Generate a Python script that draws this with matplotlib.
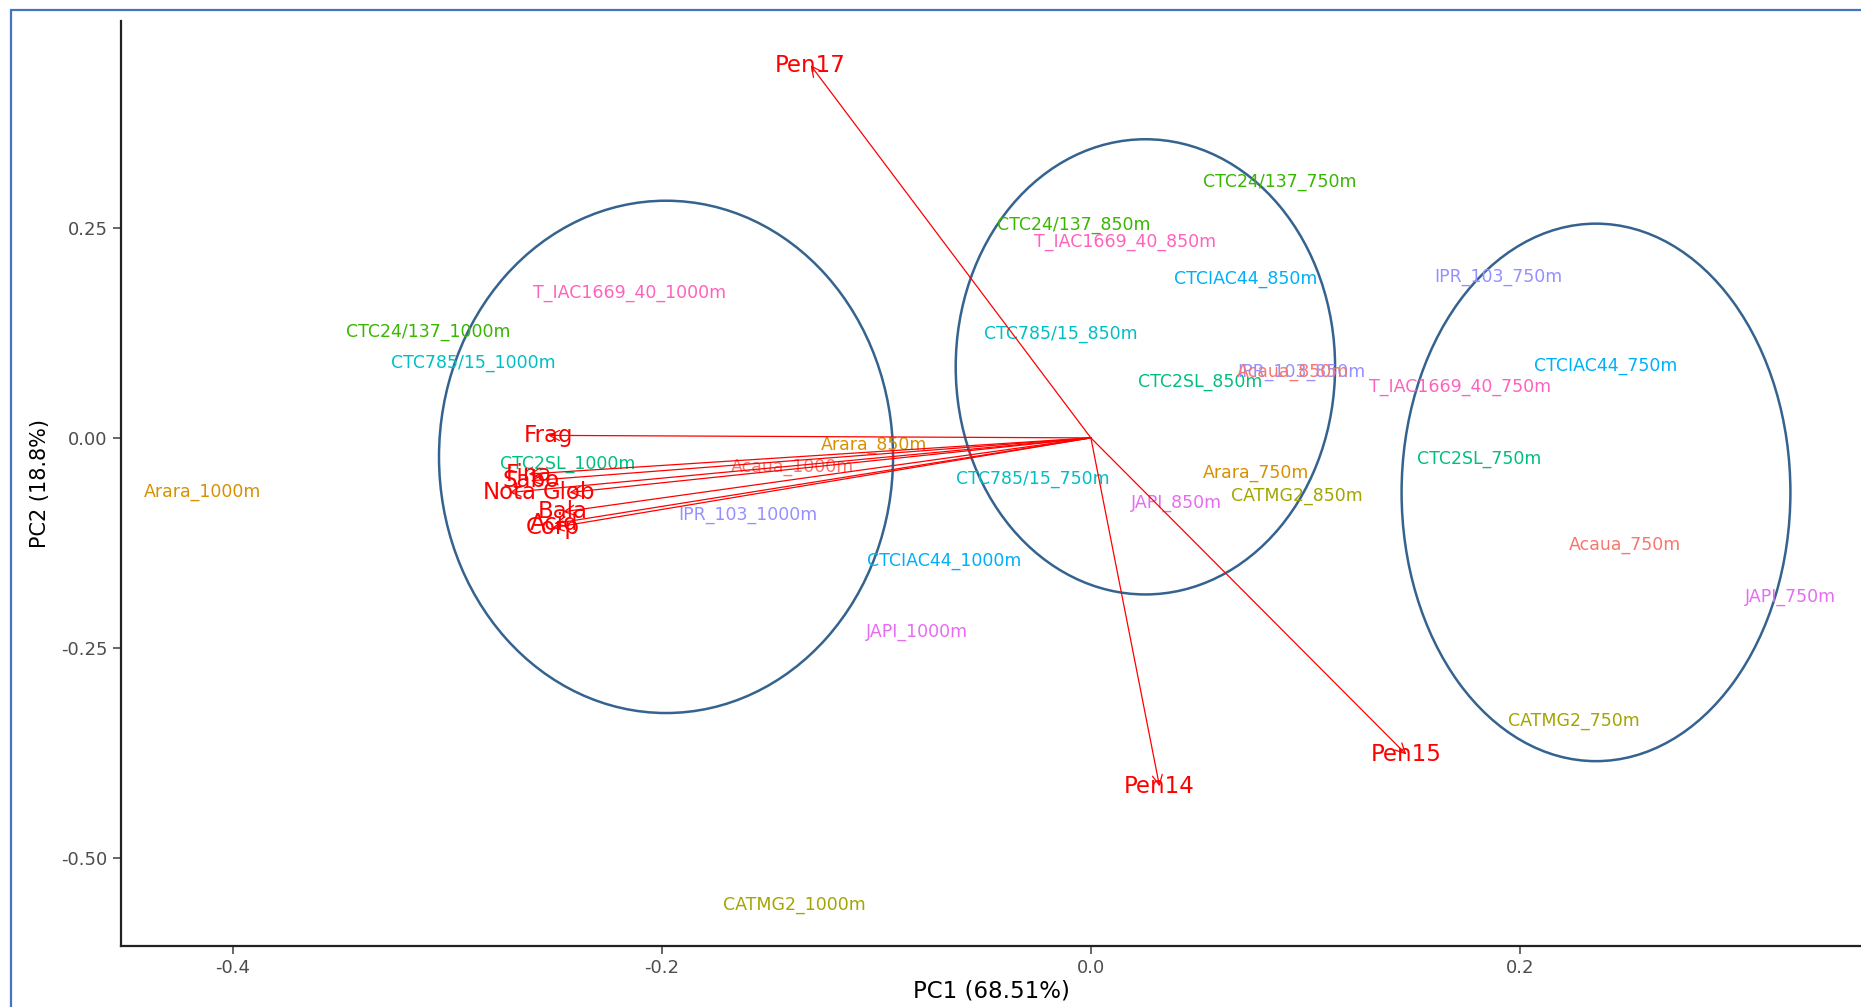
import matplotlib
matplotlib.use('Agg')
import matplotlib.pyplot as plt
from matplotlib.patches import Ellipse, Rectangle

plt.rcParams['font.family'] = ['DejaVu Sans']
plt.rcParams['axes.unicode_minus'] = False

# amostras (genótipo_altitude) e coordenadas PC1/PC2
sample_names = [
    'Arara_1000m', 'CTC24/137_1000m', 'CTC785/15_1000m', 'T_IAC1669_40_1000m',
    'CTC2SL_1000m', 'Acaua_1000m', 'IPR_103_1000m', 'CTCIAC44_1000m',
    'JAPI_1000m', 'CATMG2_1000m',
    'Arara_850m', 'CTC24/137_850m', 'T_IAC1669_40_850m', 'CTCIAC44_850m',
    'CTC785/15_850m', 'CTC2SL_850m', 'IPR_103_850m', 'Acaua_850m',
    'CATMG2_850m', 'JAPI_850m',
    'CTC24/137_750m', 'T_IAC1669_40_750m', 'IPR_103_750m', 'CTCIAC44_750m',
    'CTC2SL_750m', 'Acaua_750m', 'JAPI_750m', 'CATMG2_750m',
    'CTC785/15_750m', 'Arara_750m',
]
pc1 = [-0.414, -0.309, -0.288, -0.215, -0.244, -0.139, -0.160, -0.0685, -0.081, -0.138,
       -0.101, -0.008, 0.016, 0.072, -0.014, 0.051, 0.098, 0.094, 0.096, 0.040,
       0.088, 0.172, 0.190, 0.240, 0.181, 0.249, 0.326, 0.225, -0.027, 0.077]
pc2 = [-0.065, 0.126, 0.089, 0.173, -0.031, -0.035, -0.092, -0.147, -0.231, -0.556,
       -0.008, 0.254, 0.233, 0.189, 0.124, 0.066, 0.079, 0.079, -0.069, -0.078,
       0.305, 0.061, 0.192, 0.086, -0.025, -0.127, -0.189, -0.337, -0.049, -0.042]

genotypes = ['Acaua', 'Arara', 'CATMG2', 'CTC24/137', 'CTC2SL', 'CTC785/15',
             'CTCIAC44', 'IPR_103', 'JAPI', 'T_IAC1669_40']
genotype_colors = ['#F8766D', '#D89000', '#A3A500', '#39B600', '#00BF7D', '#00BFC4',
                   '#00B0F6', '#9590FF', '#E76BF3', '#FF62BC']

# variáveis (setas)
var_names = ['Pen17', 'Pen15', 'Pen14', 'Frag', 'Fina', 'Sabo', 'Nota', 'Glob',
             'Bala', 'Acid', 'Corp']
var_pc1 = [-0.1306, 0.147, 0.032, -0.253, -0.262, -0.261, -0.271, -0.243, -0.246, -0.250, -0.251]
var_pc2 = [0.4437, -0.377, -0.415, 0.003, -0.043, -0.051, -0.065, -0.065, -0.088, -0.102, -0.107]

# elipses por altitude: centro, semi-eixos
ell_cx = [-0.198, 0.0254, 0.2354]
ell_cy = [-0.0226, 0.0846, -0.0649]
ell_sx = [0.1058, 0.0884, 0.0906]
ell_sy = [0.305, 0.271, 0.320]

fig = plt.figure(figsize=(18.61, 10.07), dpi=100)
ax = fig.add_axes([121 / 1861, 61 / 1007, 1 - 121 / 1861, 925 / 1007])

color_of = dict(zip(genotypes, genotype_colors))
for name, x, y in zip(sample_names, pc1, pc2):
    g = name.rsplit('_', 1)[0]
    ax.text(x, y, name, color=color_of[g], fontsize=12.5, ha='center', va='center')

for cx, cy, sx, sy in zip(ell_cx, ell_cy, ell_sx, ell_sy):
    ax.add_patch(Ellipse((cx, cy), 2 * sx, 2 * sy, fill=False,
                         edgecolor='#35638F', linewidth=1.8))

for name, x, y in zip(var_names, var_pc1, var_pc2):
    ax.annotate('', xy=(x, y), xytext=(0, 0),
                arrowprops=dict(arrowstyle='->', color='red', lw=0.9,
                                mutation_scale=18, shrinkA=0, shrinkB=0))
    ax.text(x, y, name, color='red', fontsize=16.5, ha='center', va='center')

ax.set_xlim(-0.452, 0.3589)
ax.set_ylim(-0.605, 0.4964)
ax.set_xticks([-0.4, -0.2, 0.0, 0.2])
ax.set_xticklabels(['-0.4', '-0.2', '0.0', '0.2'])
ax.set_yticks([-0.5, -0.25, 0.0, 0.25])
ax.set_yticklabels(['-0.50', '-0.25', '0.00', '0.25'])
ax.tick_params(labelsize=13, colors='#4D4D4D', length=6, width=1.2, labelcolor='#4D4D4D')
ax.set_xlabel('PC1 (68.51%)', fontsize=16.5, color='black', labelpad=2)
ax.set_ylabel('PC2 (18.8%)', fontsize=15, color='black', labelpad=8)

for s in ['top', 'right']:
    ax.spines[s].set_visible(False)
for s in ['left', 'bottom']:
    ax.spines[s].set_linewidth(1.6)
    ax.spines[s].set_color('#222222')

# moldura azul da captura
fig.patches.append(Rectangle((11 / 1861, -0.1), 1.2, 1 - 10 / 1007 + 0.1,
                             transform=fig.transFigure, fill=False,
                             edgecolor='#4472C4', linewidth=1.6))

fig.savefig('out.png', dpi=100)
